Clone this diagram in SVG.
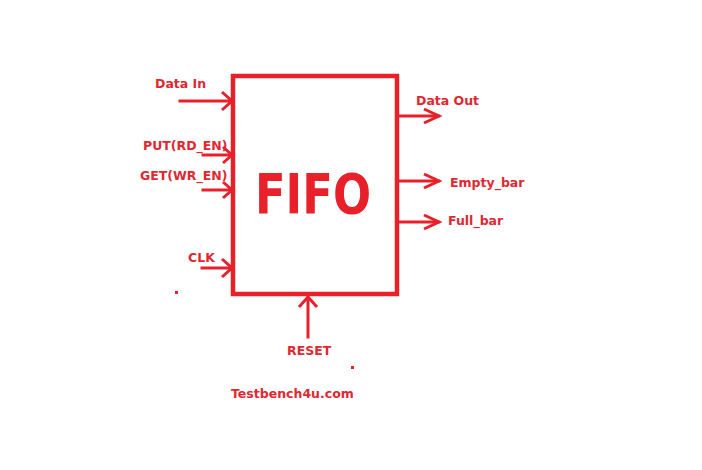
<svg xmlns="http://www.w3.org/2000/svg" width="702" height="470" viewBox="0 0 702 470">
<style>
.ln{stroke:#e8202a;stroke-width:3;fill:none;stroke-linecap:square}
.hd{stroke:#e8202a;stroke-width:3;fill:none}
.t{font-family:"DejaVu Sans",Verdana,sans-serif;font-weight:bold;font-size:12.5px;fill:#e02832}
</style>
<rect width="702" height="470" fill="#ffffff"/>
<g id="fifo">
<rect x="233" y="76" width="164" height="218" fill="#ffffff" stroke="#e8202a" stroke-width="4.5"/>
<text x="255" y="213" textLength="116" lengthAdjust="spacingAndGlyphs" style="font-family:'DejaVu Sans',Verdana,sans-serif;font-weight:bold;font-size:56px;fill:#e8202a">FIFO</text>
</g>
<g id="connectors">
<path class="ln" d="M180,101 H231"/><path class="hd" d="M222,92 L232,101 L222,110"/>
<path class="ln" d="M203,155 H231"/><path class="hd" d="M223,147 L232,155 L223,163"/>
<path class="ln" d="M203,190 H231"/><path class="hd" d="M223,182 L232,190 L223,198"/>
<path class="ln" d="M202,268 H231"/><path class="hd" d="M222,259 L232,268 L222,277"/>
<path class="ln" d="M308,337 V298"/><path class="hd" d="M299,307 L308,297 L317,307"/>
<path class="ln" d="M399,116 H438"/><path class="hd" d="M424,109 L439,116 L424,123"/>
<path class="ln" d="M399,181 H438"/><path class="hd" d="M424,174 L439,181 L424,188"/>
<path class="ln" d="M399,222 H438"/><path class="hd" d="M424,215 L439,222 L424,229"/>
</g>
<g id="labels">
<text class="t" x="155" y="88">Data In</text>
<text class="t" x="143" y="150">PUT(RD_EN)</text>
<text class="t" x="140" y="180">GET(WR_EN)</text>
<text class="t" x="188" y="262">CLK</text>
<text class="t" x="416" y="105">Data Out</text>
<text class="t" x="450" y="187">Empty_bar</text>
<text class="t" x="448" y="225">Full_bar</text>
<text class="t" x="287" y="355">RESET</text>
<text class="t" x="231" y="398">Testbench4u.com</text>
</g>
<rect x="175" y="291" width="3" height="3" fill="#e8202a"/>
<rect x="351" y="366" width="3" height="3" fill="#e8202a"/>
</svg>
